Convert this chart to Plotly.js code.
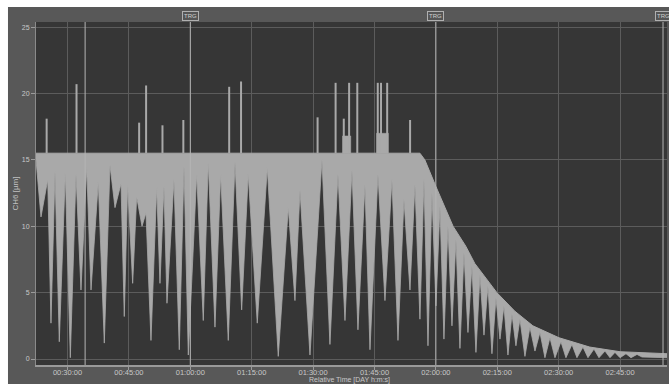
<!DOCTYPE html>
<html><head><meta charset="utf-8">
<script src="https://cdn.plot.ly/plotly-3.0.1.min.js"></script>
<style>html,body{margin:0;padding:0;background:#fff;}#chart{width:669px;height:384px;}</style>
</head><body><div id="chart"></div>
<script>
// time axis in minutes from the start of the day-relative clock
const envT = [22.3, 116.1, 117.3, 118.6, 120.0, 124.2, 127.3, 129.5, 134.9, 139.3, 143.7, 150.1, 157.6, 165.0, 171.1, 176.5];
const envV = [15.5, 15.5, 15.0, 14.1, 13.0, 10.0, 8.5, 7.2, 5.0, 3.6, 2.5, 1.6, 0.9, 0.55, 0.45, 0.4];

const lowT = [22.30, 23.52, 25.16, 25.96, 26.94, 27.99, 29.46, 30.68, 32.07, 33.29, 34.69, 35.74, 37.52, 38.99, 40.38, 41.60,
  43.07, 43.87, 44.70, 45.92, 46.90, 48.20, 49.17, 50.39, 51.79, 52.59, 53.57, 54.30, 56.01, 57.31, 58.46, 59.51,
  61.56, 63.17, 64.39, 66.03, 67.42, 69.28, 70.92, 72.55, 74.16, 76.36, 78.81, 81.49, 83.94, 85.57, 86.80, 89.24,
  92.17, 94.12, 96.08, 97.79, 99.50, 100.96, 102.67, 103.90, 105.85, 107.56, 109.27, 110.74, 112.20, 113.67, 114.89,
  116.11, 117.09, 118.07, 119.04, 120.02, 121.00, 121.97, 122.95, 123.93, 124.91, 125.88, 126.86, 127.84, 128.81,
  129.79, 130.77, 131.75, 132.72, 133.70, 134.68, 135.66, 136.63, 137.61, 138.59, 139.56, 140.54, 141.76, 142.98,
  144.21, 145.43, 146.65, 147.87, 149.10, 150.56, 151.78, 153.25, 154.47, 155.94, 157.16, 158.63, 159.85, 161.32,
  162.54, 163.76, 164.99, 166.45, 167.67, 169.14, 170.36, 176.47];
const lowV = [15.0, 10.7, 13.5, 2.7, 14.1, 1.3, 14.0, 0.1, 13.9, 5.2, 14.4, 5.2, 13.3, 1.2, 14.6, 11.4,
  13.2, 3.2, 13.1, 5.7, 12.2, 10.0, 11.0, 1.4, 12.9, 5.7, 13.0, 4.2, 13.5, 0.7, 14.5, 0.3,
  13.9, 2.9, 14.8, 2.4, 13.9, 1.4, 14.8, 3.7, 13.9, 2.7, 14.4, 0.2, 11.4, 4.4, 12.7, 0.3,
  15.0, 1.1, 13.9, 2.9, 14.2, 2.2, 13.1, 0.7, 13.9, 4.4, 13.5, 1.4, 12.0, 5.2, 13.1,
  3.0, 13.5, 1.0, 12.5, 4.0, 11.5, 1.5, 10.0, 2.5, 9.0, 0.8, 8.0, 2.0, 7.0,
  0.5, 6.3, 1.8, 5.5, 0.4, 4.6, 1.5, 4.0, 0.3, 3.4, 1.0, 3.0, 0.2, 2.4,
  0.6, 2.0, 0.1, 1.6, 0.1, 1.3, 0.1, 1.1, 0.1, 0.9, 0.1, 0.75, 0.1, 0.6,
  0.1, 0.5, 0.1, 0.4, 0.1, 0.35, 0.15, 0.1];

const spikeT = [24.9, 32.2, 47.5, 49.2, 53.2, 58.3, 69.5, 72.4, 91.1, 95.5, 97.5, 98.8, 100.8, 105.8, 106.6, 108.1, 113.7];
const spikeV = [18.1, 20.7, 17.8, 20.6, 17.6, 18.0, 20.5, 20.9, 18.2, 20.8, 18.1, 20.8, 20.8, 20.8, 20.8, 20.8, 18.0];
const spikeBase = 15.5;
const plateauStart = [97.2, 105.5];
const plateauEnd = [99.2, 108.4];
const plateauV = [16.8, 17.0];

const markerT = [34.3];
const trgT = [60.0, 120.0, 175.5];
const trgLabels = ['TRG', 'TRG', 'TRG'];

const xTickVals = [30, 45, 60, 75, 90, 105, 120, 135, 150, 165];
const xTickText = ['00:30:00', '00:45:00', '01:00:00', '01:15:00', '01:30:00', '01:45:00', '02:00:00', '02:15:00', '02:30:00', '02:45:00'];
const yTickVals = [0, 5, 10, 15, 20, 25];
const xTitle = 'Relative Time [DAY h:m:s]';
const yTitle = 'CH6 [µm]';

const GREY = '#a9a9a9';
const FONT = 'Liberation Sans, Arial, sans-serif';

const spikeX = [], spikeY = [];
spikeT.forEach((t, i) => { spikeX.push(t, t, null); spikeY.push(spikeBase, spikeV[i], null); });
const platX = [], platY = [];
plateauStart.forEach((s, i) => { platX.push(s, s, plateauEnd[i], plateauEnd[i], s, null); platY.push(spikeBase, plateauV[i], plateauV[i], spikeBase, spikeBase, null); });

const traces = [
  {x: lowT, y: lowV, type: 'scatter', mode: 'lines', line: {color: GREY, width: 0.8}, hoverinfo: 'skip', showlegend: false},
  {x: envT, y: envV, type: 'scatter', mode: 'lines', fill: 'tonexty', fillcolor: GREY, line: {color: GREY, width: 1}, hoverinfo: 'skip', showlegend: false},
  {x: platX, y: platY, type: 'scatter', mode: 'lines', fill: 'toself', fillcolor: GREY, line: {color: GREY, width: 0.5}, hoverinfo: 'skip', showlegend: false},
  {x: spikeX, y: spikeY, type: 'scatter', mode: 'lines', line: {color: GREY, width: 2}, hoverinfo: 'skip', showlegend: false}
];

const shapes = [];
markerT.concat(trgT).forEach(t => shapes.push({type: 'line', xref: 'x', yref: 'paper', x0: t, x1: t, y0: 0, y1: 1, line: {color: '#b4b4b4', width: 1}, layer: 'above'}));
// white page strips around the grey frame
shapes.push({type: 'rect', xref: 'paper', yref: 'paper', x0: -0.2, x1: 1.2, y0: 1.0437, y1: 1.3, fillcolor: '#ffffff', line: {width: 0}, layer: 'above'});
shapes.push({type: 'rect', xref: 'paper', yref: 'paper', x0: -0.2, x1: -0.0444, y0: -0.3, y1: 1.3, fillcolor: '#ffffff', line: {width: 0}, layer: 'above'});

const annotations = trgT.map((t, i) => ({x: t, xref: 'x', y: 1.0175, yref: 'paper', text: trgLabels[i], showarrow: false,
  font: {family: FONT, size: 6, color: '#cfcfcf'}, bgcolor: '#555555', bordercolor: '#b0b0b0', borderwidth: 1, borderpad: 1,
  xanchor: 'center', yanchor: 'middle'}));
annotations.push({x: 0.4976, xref: 'paper', y: -0.043, yref: 'paper', text: xTitle, showarrow: false,
  font: {family: FONT, size: 7, color: '#c8c8c8'}, xanchor: 'center', yanchor: 'middle'});

const layout = {
  width: 669, height: 384,
  margin: {l: 36, r: 2, t: 22, b: 19, pad: 0},
  paper_bgcolor: '#585858', plot_bgcolor: '#363636',
  showlegend: false,
  font: {family: FONT, size: 7.5, color: '#c4c4c4'},
  xaxis: {range: [22.3, 176.47], tickvals: xTickVals, ticktext: xTickText, showgrid: true, gridcolor: '#5c5c5c', gridwidth: 1,
    zeroline: false, showline: true, linecolor: '#9a9a9a', linewidth: 2, ticks: 'outside', ticklen: 3, tickcolor: '#9a9a9a',
    ticklabelstandoff: -4,
    tickfont: {family: FONT, size: 7.5, color: '#c8c8c8'}},
  yaxis: {range: [-0.45, 25.38], tickvals: yTickVals, showgrid: true, gridcolor: '#5c5c5c', gridwidth: 1,
    zeroline: false, showline: true, linecolor: '#8a8a8a', linewidth: 1, ticks: 'outside', ticklen: 4, tickcolor: '#9a9a9a',
    tickfont: {family: FONT, size: 7, color: '#c8c8c8'},
    title: {text: yTitle, font: {family: FONT, size: 8, color: '#c0c0c0'}, standoff: 2}},
  shapes: shapes,
  annotations: annotations
};

Plotly.newPlot('chart', traces, layout, {staticPlot: true, displayModeBar: false});
</script>
</body></html>
